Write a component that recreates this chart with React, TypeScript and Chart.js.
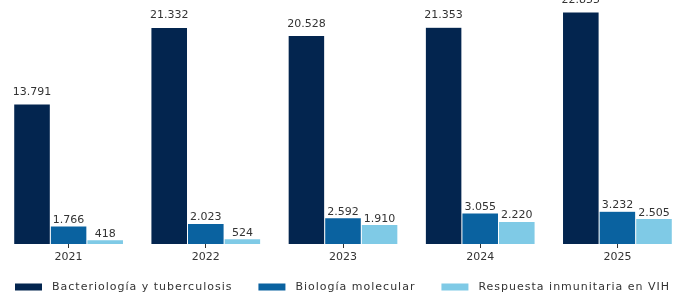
import React, { useEffect, useRef } from "react";
import { Chart, registerables } from "chart.js";

Chart.register(...registerables);

const categories = ["2021", "2022", "2023", "2024", "2025"];
const seriesNames = ["Bacteriología y tuberculosis", "Biología molecular", "Respuesta inmunitaria en VIH"];
const bacteriologia = [13791, 21332, 20528, 21353, 22855];
const biologia = [1766, 2023, 2592, 3055, 3232];
const respuesta = [418, 524, 1910, 2220, 2505];
const colors = ["#03254f", "#0a62a0", "#7fcae6"];
const labelGaps = [9, 3, 3];

const FONT = "'DejaVu Sans', sans-serif";

function fmt(v: number): string {
  return String(v).replace(/\B(?=(\d{3})+(?!\d))/g, ".");
}

const valueLabels = {
  id: "valueLabels",
  afterDatasetsDraw(chart: any) {
    const ctx = chart.ctx;
    ctx.save();
    ctx.font = `11px ${FONT}`;
    ctx.fillStyle = "#333333";
    ctx.textAlign = "center";
    ctx.textBaseline = "alphabetic";
    chart.data.datasets.forEach((ds: any, di: number) => {
      const meta = chart.getDatasetMeta(di);
      meta.data.forEach((el: any, i: number) => {
        ctx.fillText(fmt(ds.data[i]), el.x, el.y - labelGaps[di]);
      });
    });
    ctx.restore();
  },
};

const bottomLegend = {
  id: "bottomLegend",
  afterDraw(chart: any) {
    const ctx = chart.ctx;
    ctx.save();
    ctx.font = `11px ${FONT}`;
    (ctx as any).letterSpacing = "1px";
    ctx.textBaseline = "middle";
    ctx.textAlign = "left";
    const y = 287;
    let x = 15;
    const boxW = 27;
    const boxH = 7;
    chart.data.datasets.forEach((ds: any) => {
      ctx.fillStyle = ds.backgroundColor;
      ctx.fillRect(x, y - boxH / 2, boxW, boxH);
      x += boxW + 10;
      ctx.fillStyle = "#333333";
      ctx.fillText(ds.label, x, y + 0.5);
      x += ctx.measureText(ds.label).width + 26;
    });
    ctx.restore();
  },
};

export default function App() {
  const ref = useRef<HTMLCanvasElement>(null);
  useEffect(() => {
    document.body.style.margin = "0";
    document.body.style.overflow = "hidden";
    const chart = new Chart(ref.current as HTMLCanvasElement, {
      type: "bar",
      data: {
        labels: categories,
        datasets: [bacteriologia, biologia, respuesta].map((d, i) => ({
          label: seriesNames[i],
          data: d,
          backgroundColor: colors[i],
          borderColor: "rgba(255,255,255,0.35)",
          borderWidth: 0.5,
          categoryPercentage: 0.8,
          barPercentage: 1.0,
        })),
      },
      options: {
        responsive: false,
        animation: false,
        devicePixelRatio: 1,
        layout: { padding: { top: 0, left: 0, right: 0, bottom: 31 } },
        plugins: { legend: { display: false }, tooltip: { enabled: false } },
        scales: {
          x: {
            offset: true,
            border: { display: false },
            grid: {
              offset: false,
              drawOnChartArea: false,
              drawTicks: true,
              tickLength: 4,
              tickColor: "#333333",
              tickWidth: 1,
            },
            ticks: { font: { family: FONT, size: 11 }, color: "#333333", padding: 3 },
            afterFit: (s: any) => {
              s.height = 20;
            },
          },
          y: { display: false, min: 0, max: 24030 },
        },
      },
      plugins: [valueLabels, bottomLegend],
    });
    return () => chart.destroy();
  }, []);
  return (
    <div style={{ position: "fixed", left: 0, top: 0, width: 679, height: 295, overflow: "hidden", background: "#fff" }}>
      <canvas ref={ref} width={686} height={295} style={{ display: "block", width: 686, height: 295 }} />
    </div>
  );
}
